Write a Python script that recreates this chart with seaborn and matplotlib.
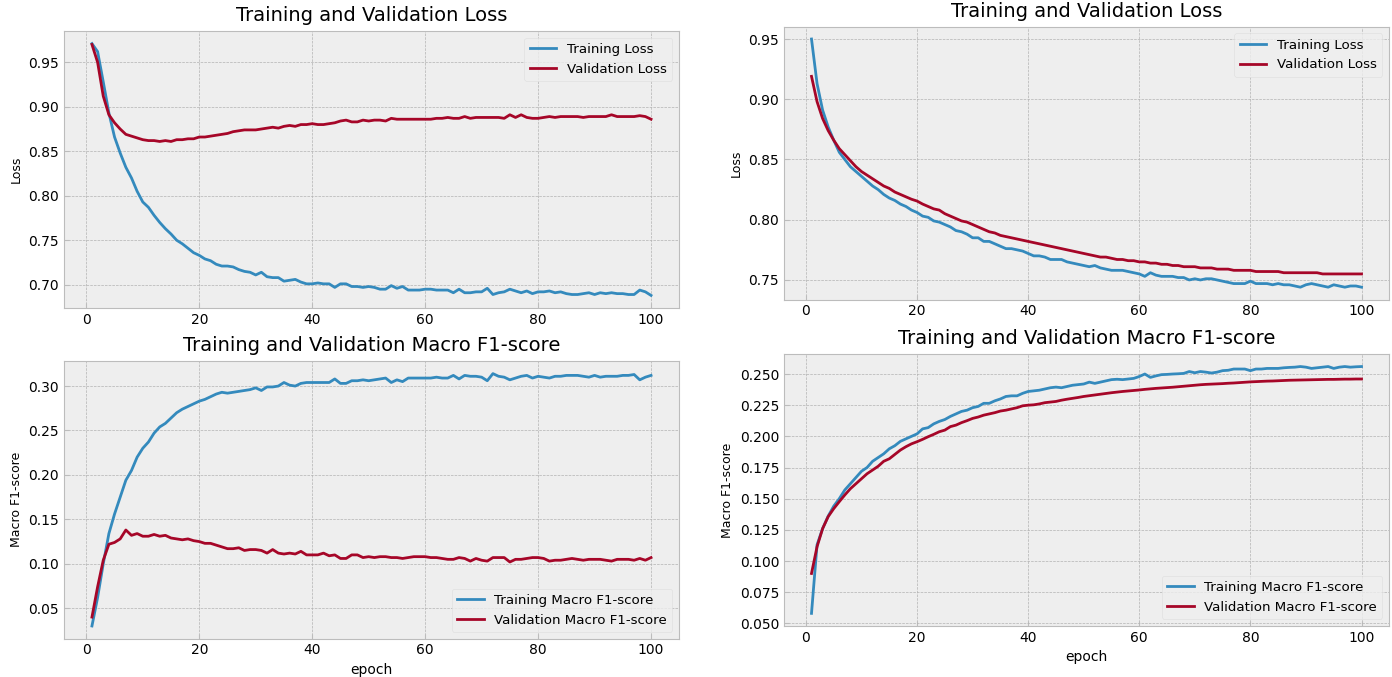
import numpy as np
import pandas as pd
import matplotlib
matplotlib.use("Agg")
import matplotlib.pyplot as plt
import seaborn as sns

epochs = list(range(1, 101))

# ---- Left model ----
left_train_loss = [
    0.971, 0.962, 0.928, 0.893, 0.866, 0.848, 0.832, 0.820, 0.805, 0.793,
    0.787, 0.778, 0.770, 0.763, 0.757, 0.750, 0.746, 0.741, 0.736, 0.733,
    0.729, 0.727, 0.723, 0.721, 0.721, 0.720, 0.717, 0.715, 0.714, 0.711,
    0.714, 0.709, 0.708, 0.708, 0.704, 0.705, 0.706, 0.703, 0.701, 0.701,
    0.702, 0.701, 0.701, 0.697, 0.701, 0.701, 0.698, 0.698, 0.697, 0.698,
    0.697, 0.695, 0.695, 0.699, 0.696, 0.698, 0.694, 0.694, 0.694, 0.695,
    0.695, 0.694, 0.694, 0.694, 0.691, 0.695, 0.691, 0.691, 0.692, 0.692,
    0.696, 0.689, 0.691, 0.692, 0.695, 0.693, 0.691, 0.693, 0.690, 0.692,
    0.692, 0.693, 0.691, 0.692, 0.690, 0.689, 0.689, 0.690, 0.691, 0.689,
    0.691, 0.690, 0.691, 0.690, 0.690, 0.689, 0.689, 0.694, 0.692, 0.688]
left_val_loss = [
    0.970, 0.950, 0.912, 0.891, 0.882, 0.875, 0.869, 0.867, 0.865, 0.863,
    0.862, 0.862, 0.861, 0.862, 0.861, 0.863, 0.863, 0.864, 0.864, 0.866,
    0.866, 0.867, 0.868, 0.869, 0.870, 0.872, 0.873, 0.874, 0.874, 0.874,
    0.875, 0.876, 0.877, 0.876, 0.878, 0.879, 0.878, 0.880, 0.880, 0.881,
    0.880, 0.880, 0.881, 0.882, 0.884, 0.885, 0.883, 0.883, 0.885, 0.884,
    0.885, 0.885, 0.884, 0.887, 0.886, 0.886, 0.886, 0.886, 0.886, 0.886,
    0.886, 0.887, 0.887, 0.888, 0.887, 0.887, 0.889, 0.887, 0.888, 0.888,
    0.888, 0.888, 0.888, 0.887, 0.891, 0.888, 0.891, 0.888, 0.887, 0.887,
    0.888, 0.889, 0.888, 0.889, 0.889, 0.889, 0.889, 0.888, 0.889, 0.889,
    0.889, 0.889, 0.891, 0.889, 0.889, 0.889, 0.889, 0.890, 0.889, 0.886]
left_train_f1 = [
    0.030, 0.062, 0.100, 0.134, 0.156, 0.175, 0.194, 0.205, 0.220, 0.230,
    0.237, 0.247, 0.254, 0.258, 0.264, 0.270, 0.274, 0.277, 0.280, 0.283,
    0.285, 0.288, 0.291, 0.293, 0.292, 0.293, 0.294, 0.295, 0.296, 0.298,
    0.295, 0.299, 0.299, 0.300, 0.304, 0.301, 0.300, 0.303, 0.304, 0.304,
    0.304, 0.304, 0.304, 0.308, 0.303, 0.303, 0.306, 0.306, 0.307, 0.306,
    0.307, 0.308, 0.309, 0.304, 0.307, 0.305, 0.309, 0.309, 0.309, 0.309,
    0.309, 0.310, 0.309, 0.309, 0.312, 0.308, 0.312, 0.311, 0.311, 0.310,
    0.306, 0.314, 0.311, 0.310, 0.307, 0.309, 0.311, 0.312, 0.309, 0.311,
    0.310, 0.309, 0.311, 0.311, 0.312, 0.312, 0.312, 0.311, 0.310, 0.312,
    0.310, 0.311, 0.311, 0.311, 0.312, 0.312, 0.313, 0.307, 0.310, 0.312]
left_val_f1 = [
    0.040, 0.074, 0.104, 0.122, 0.124, 0.128, 0.138, 0.132, 0.134, 0.131,
    0.131, 0.133, 0.131, 0.132, 0.129, 0.128, 0.127, 0.128, 0.126, 0.125,
    0.123, 0.123, 0.121, 0.119, 0.117, 0.117, 0.118, 0.115, 0.116, 0.116,
    0.115, 0.112, 0.116, 0.112, 0.111, 0.112, 0.111, 0.114, 0.110, 0.110,
    0.110, 0.112, 0.109, 0.110, 0.106, 0.106, 0.110, 0.110, 0.107, 0.108,
    0.107, 0.108, 0.108, 0.107, 0.107, 0.106, 0.107, 0.108, 0.108, 0.108,
    0.107, 0.107, 0.106, 0.105, 0.105, 0.107, 0.106, 0.103, 0.106, 0.104,
    0.103, 0.107, 0.107, 0.107, 0.102, 0.105, 0.105, 0.106, 0.107, 0.107,
    0.106, 0.103, 0.104, 0.104, 0.105, 0.106, 0.105, 0.104, 0.105, 0.105,
    0.105, 0.104, 0.103, 0.105, 0.105, 0.105, 0.104, 0.106, 0.104, 0.107]

# ---- Right model ----
right_train_loss = [
    0.950, 0.913, 0.891, 0.877, 0.866, 0.856, 0.850, 0.844, 0.840, 0.836,
    0.832, 0.828, 0.825, 0.821, 0.818, 0.816, 0.813, 0.811, 0.808, 0.806,
    0.803, 0.802, 0.799, 0.798, 0.796, 0.794, 0.791, 0.790, 0.788, 0.785,
    0.785, 0.782, 0.782, 0.780, 0.778, 0.776, 0.776, 0.775, 0.774, 0.772,
    0.770, 0.770, 0.769, 0.767, 0.767, 0.767, 0.765, 0.764, 0.763, 0.762,
    0.761, 0.762, 0.760, 0.759, 0.758, 0.758, 0.758, 0.757, 0.756, 0.755,
    0.753, 0.756, 0.754, 0.753, 0.753, 0.753, 0.752, 0.752, 0.750, 0.751,
    0.750, 0.751, 0.751, 0.750, 0.749, 0.748, 0.747, 0.747, 0.747, 0.749,
    0.747, 0.747, 0.747, 0.746, 0.747, 0.746, 0.746, 0.745, 0.744, 0.746,
    0.747, 0.746, 0.745, 0.744, 0.746, 0.745, 0.744, 0.745, 0.745, 0.744]
right_val_loss = [
    0.919, 0.898, 0.884, 0.874, 0.866, 0.859, 0.854, 0.849, 0.844, 0.840,
    0.837, 0.834, 0.831, 0.828, 0.826, 0.823, 0.821, 0.819, 0.817, 0.8155,
    0.813, 0.811, 0.809, 0.808, 0.805, 0.803, 0.801, 0.799, 0.798, 0.796,
    0.794, 0.792, 0.790, 0.789, 0.787, 0.786, 0.785, 0.784, 0.783, 0.782,
    0.781, 0.780, 0.779, 0.778, 0.777, 0.776, 0.775, 0.774, 0.773, 0.772,
    0.771, 0.770, 0.769, 0.769, 0.768, 0.767, 0.767, 0.766, 0.766, 0.765,
    0.765, 0.764, 0.764, 0.763, 0.763, 0.762, 0.762, 0.761, 0.761, 0.761,
    0.760, 0.760, 0.760, 0.759, 0.759, 0.759, 0.758, 0.758, 0.758, 0.758,
    0.757, 0.757, 0.757, 0.757, 0.757, 0.756, 0.756, 0.756, 0.756, 0.756,
    0.756, 0.756, 0.755, 0.755, 0.755, 0.755, 0.755, 0.755, 0.755, 0.755]
right_train_f1 = [
    0.058, 0.113, 0.126, 0.136, 0.144, 0.150, 0.157, 0.162, 0.167, 0.172,
    0.175, 0.180, 0.183, 0.186, 0.190, 0.1925, 0.196, 0.198, 0.200, 0.202,
    0.206, 0.207, 0.210, 0.212, 0.2135, 0.216, 0.218, 0.220, 0.221, 0.223,
    0.224, 0.2265, 0.2265, 0.2285, 0.230, 0.232, 0.2325, 0.2325, 0.2345, 0.236,
    0.2365, 0.237, 0.238, 0.239, 0.2395, 0.239, 0.240, 0.241, 0.2415, 0.242,
    0.2435, 0.2425, 0.2435, 0.2445, 0.2455, 0.2458, 0.2455, 0.246, 0.2465, 0.248,
    0.250, 0.2473, 0.2485, 0.2495, 0.2497, 0.250, 0.2502, 0.2505, 0.252, 0.251,
    0.252, 0.2515, 0.2508, 0.2515, 0.2527, 0.253, 0.254, 0.254, 0.254, 0.2527,
    0.254, 0.254, 0.2545, 0.2545, 0.2545, 0.255, 0.2553, 0.2555, 0.256, 0.2555,
    0.2545, 0.255, 0.2555, 0.256, 0.2545, 0.2555, 0.256, 0.2555, 0.2558, 0.256]
right_val_f1 = [
    0.090, 0.1115, 0.126, 0.1356, 0.142, 0.1476, 0.153, 0.158, 0.162, 0.166,
    0.170, 0.173, 0.176, 0.180, 0.182, 0.1855, 0.189, 0.1917, 0.194, 0.1957,
    0.1976, 0.1997, 0.2016, 0.2037, 0.205, 0.2078, 0.209, 0.211, 0.2126, 0.2144,
    0.2155, 0.217, 0.218, 0.219, 0.2203, 0.221, 0.222, 0.223, 0.2245, 0.2250,
    0.2253, 0.226, 0.227, 0.2275, 0.228, 0.229, 0.2298, 0.2305, 0.2312, 0.232,
    0.2326, 0.2332, 0.2338, 0.2344, 0.235, 0.2355, 0.236, 0.2364, 0.2368, 0.2372,
    0.2377, 0.2381, 0.2385, 0.2388, 0.2391, 0.2394, 0.2398, 0.2402, 0.2406, 0.241,
    0.2414, 0.2417, 0.2419, 0.2421, 0.2423, 0.2426, 0.2428, 0.2431, 0.2434, 0.2437,
    0.2439, 0.2441, 0.2443, 0.2444, 0.2446, 0.2448, 0.245, 0.2451, 0.2452, 0.2453,
    0.2454, 0.2455, 0.2456, 0.2457, 0.2457, 0.2458, 0.2459, 0.2459, 0.246, 0.246]

title_loss = "Training and Validation Loss"
title_f1 = "Training and Validation Macro F1-score"
labels_loss = ["Training Loss", "Validation Loss"]
labels_f1 = ["Training Macro F1-score", "Validation Macro F1-score"]

plt.style.use("bmh")
plt.rcParams["font.family"] = ["DejaVu Sans"]
C_TRAIN = "#348ABD"
C_VAL = "#A60628"

W, H = 1392, 677
fig = plt.figure(figsize=(W / 100, H / 100), dpi=100)
fig.patch.set_facecolor("white")


def box(left, top, right, bottom):
    return [left / W, 1 - bottom / H, (right - left) / W, (bottom - top) / H]


def panel(rect, train, val, title, labels, ylabel, loc, xlabel=None):
    ax = fig.add_axes(box(*rect))
    sns.lineplot(x=epochs, y=train, ax=ax, color=C_TRAIN, linewidth=2, label=labels[0])
    sns.lineplot(x=epochs, y=val, ax=ax, color=C_VAL, linewidth=2, label=labels[1])
    ax.set_title(title, fontsize=14, pad=7)
    ax.set_ylabel(ylabel, fontsize=9)
    if xlabel:
        ax.set_xlabel(xlabel, fontsize=10)
    else:
        ax.set_xlabel("")
    ax.tick_params(labelsize=10, direction="in", color="#bcbcbc")
    ax.set_xticks([0, 20, 40, 60, 80, 100])
    for s in ax.spines.values():
        s.set_color("#bcbcbc")
    leg = ax.legend(loc=loc, fontsize=9.6, fancybox=True, framealpha=0.8)
    leg.get_frame().set_edgecolor("#dddddd")
    return ax


panel((64, 31, 679, 308), left_train_loss, left_val_loss, title_loss, labels_loss, "Loss", "upper right")
panel((64, 361, 679, 638.6), left_train_f1, left_val_f1, title_f1, labels_f1, "Macro F1-score", "lower right", "epoch")
panel((784, 26.6, 1389, 299.6), right_train_loss, right_val_loss, title_loss, labels_loss, "Loss", "upper right")
panel((784, 354.2, 1389, 625.7), right_train_f1, right_val_f1, title_f1, labels_f1, "Macro F1-score", "lower right", "epoch")

fig.savefig("out.png", dpi=100, facecolor="white")
